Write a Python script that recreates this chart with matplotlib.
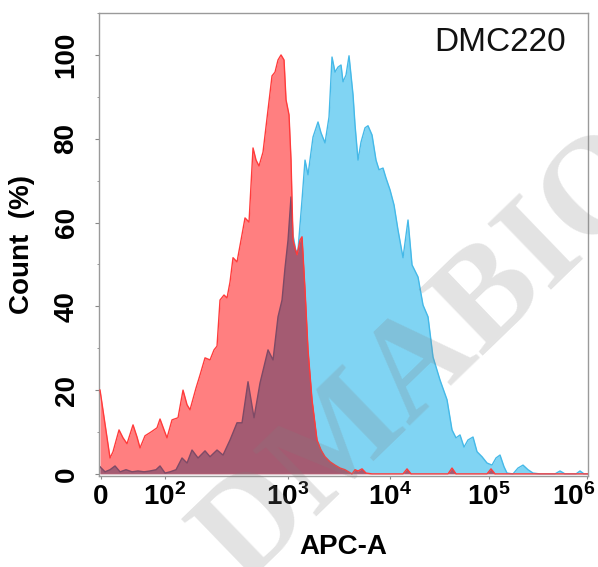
import matplotlib
matplotlib.use("Agg")
import matplotlib.pyplot as plt
import matplotlib.transforms as mtransforms
from matplotlib.ticker import MultipleLocator

plt.rcParams['font.family'] = ['Liberation Sans', 'DejaVu Sans']
plt.rcParams['mathtext.fontset'] = 'custom'
plt.rcParams['mathtext.rm'] = 'Liberation Sans:bold'
plt.rcParams['mathtext.bf'] = 'Liberation Sans:bold'
plt.rcParams['mathtext.default'] = 'rm'

# ---- data (x = display channel of the APC-A axis, y = Count %) ----
red_channel = [1, 11, 14, 20, 24, 28, 34, 38, 41, 46, 52, 58, 61, 65, 68, 73, 79, 84, 88, 91,
               97, 101, 106, 111, 115, 118, 121, 125, 128, 131, 134, 138, 142, 146, 150, 154,
               157, 160, 164, 169, 173, 176, 179, 182, 185, 187, 190, 192, 194, 196, 198, 201,
               203, 206, 209, 213, 218, 222, 226, 231, 236, 241, 246, 253, 256, 259, 263, 267,
               273, 304, 308, 312, 349, 353, 357, 388, 392, 396, 489]
red_count = [20.0, 3.8, 5.3, 10.5, 8.6, 7.2, 11.7, 8.8, 6.2, 9.1, 10.0, 11.0, 13.1, 10.5, 8.6,
             12.9, 13.4, 20.0, 16.5, 15.3, 20.5, 23.6, 27.7, 27.2, 29.6, 30.5, 41.5, 42.7, 42.0,
             45.8, 51.6, 50.6, 55.8, 61.1, 60.1, 77.8, 74.9, 73.5, 76.8, 86.9, 95.0, 95.9, 98.8,
             100.0, 98.8, 89.3, 85.7, 74.9, 55.8, 53.9, 52.3, 55.8, 56.6, 43.9, 29.6, 17.7, 8.1,
             5.7, 4.1, 2.9, 2.1, 1.4, 1.0, 0.0, 1.0, 0.7, 1.2, 0.2, 0.0, 0.0, 1.2, 0.0, 0.0,
             1.4, 0.0, 0.0, 1.2, 0.0, 0.0]

blue_channel = [1, 6, 11, 16, 21, 27, 33, 39, 45, 51, 57, 61, 66, 71, 77, 83, 88, 93, 99, 106,
                111, 118, 124, 131, 138, 143, 149, 155, 161, 169, 174, 179, 183, 186, 189, 192,
                194, 197, 199, 203, 206, 209, 214, 219, 222, 226, 230, 233, 236, 239, 242, 244,
                247, 250, 254, 256, 259, 262, 266, 269, 273, 277, 280, 284, 287, 291, 295, 299,
                304, 309, 313, 319, 324, 329, 334, 341, 348, 353, 357, 361, 365, 369, 374, 378,
                383, 388, 393, 397, 401, 405, 408, 414, 419, 424, 429, 434, 441, 456, 461, 466,
                477, 481, 485, 489]
blue_count = [1.7, 0.5, 1.0, 1.9, 0.5, 1.0, 0.5, 0.7, 0.5, 0.7, 1.0, 1.9, 0.2, 0.5, 1.0, 3.8,
              2.6, 5.7, 3.8, 5.5, 4.1, 5.7, 4.5, 8.1, 12.2, 12.2, 22.0, 13.4, 21.7, 29.6, 27.2,
              37.5, 41.5, 49.2, 55.8, 66.1, 57.0, 53.0, 53.5, 65.4, 74.9, 71.4, 80.4, 84.0, 81.4,
              79.0, 85.2, 99.5, 95.9, 97.1, 97.6, 93.6, 95.2, 99.8, 90.5, 83.3, 74.9, 79.2, 82.6,
              83.1, 80.9, 74.9, 72.6, 73.0, 70.6, 67.8, 64.2, 58.2, 51.6, 60.6, 49.9, 47.0, 40.3,
              37.5, 27.9, 22.4, 17.7, 10.5, 8.6, 9.3, 6.4, 8.1, 8.8, 5.3, 4.1, 2.6, 2.1, 3.8, 4.5,
              1.7, 0.2, 0.0, 1.4, 2.1, 1.0, 0.2, 0.0, 0.0, 0.7, 0.0, 0.0, 0.7, 0.0, 0.0]

x_tick_channels = [2, 66, 189, 291, 390, 488]
x_tick_labels = ['0', r'$10^{2}$', r'$10^{3}$', r'$10^{4}$', r'$10^{5}$', r'$10^{6}$']
y_ticks = [0, 20, 40, 60, 80, 100]
sample_name = 'DMC220'
x_label = 'APC-A'
y_label = 'Count  (%)'
watermark = 'DMABIO'

# ---- figure ----
fig = plt.figure(figsize=(5.98, 5.67), dpi=100)
ax = fig.add_axes([0.1656, 0.1605, 0.8177, 0.8165])

blue_fill = ax.fill_between(blue_channel, blue_count, 0, color='#80d4f3', lw=0, zorder=1)
ax.plot(blue_channel, blue_count, color='#45b9e8', lw=1.0, zorder=2)

red_fill = ax.fill_between(red_channel, red_count, 0, color='#ff7f80', lw=0, zorder=3)

# overlap (red under blue) in mauve
overlap = ax.fill_between(red_channel, red_count, 0, color='#a45b72', lw=0, zorder=4)
overlap.set_clip_path(blue_fill.get_paths()[0], blue_fill.get_transform())
# blue outline where inside red area
inner_line, = ax.plot(blue_channel, blue_count, color='#7e4a66', lw=1.0, zorder=5)
inner_line.set_clip_path(red_fill.get_paths()[0], red_fill.get_transform())

ax.plot(red_channel, red_count, color='#ff3b3b', lw=1.0, zorder=6)

ax.set_xlim(0, 489)
ax.set_ylim(-0.5, 110)

ax.set_xticks(x_tick_channels)
ax.set_xticklabels(x_tick_labels, fontsize=20, fontweight='bold')
ax.set_yticks(y_ticks)
ax.set_yticklabels([str(v) for v in y_ticks], fontsize=20, fontweight='bold',
                   rotation=90, va='center')
ax.yaxis.set_minor_locator(MultipleLocator(10))

ax.tick_params(axis='x', length=2.5, width=0.8, color='#888888', pad=3)
ax.tick_params(axis='y', which='major', length=3, width=0.8, color='#888888', pad=11)
ax.tick_params(axis='y', which='minor', length=1.5, width=0.6, color='#888888')

# keep the last x tick label inside the figure (as in the reference)
last = ax.get_xticklabels()[-1]
last.set_transform(last.get_transform() +
                   mtransforms.ScaledTranslation(-13 / 100, 0, fig.dpi_scale_trans))

for s in ax.spines.values():
    s.set_color('#9a9a9a')
    s.set_linewidth(1.0)

ax.set_xlabel(x_label, fontsize=20, fontweight='bold')
ax.xaxis.set_label_coords(0.5, -0.125)
ax.set_ylabel(y_label, fontsize=20, fontweight='bold')
ax.yaxis.set_label_coords(-0.131, 0.5)

ax.text(0.82, 0.937, sample_name, transform=ax.transAxes, fontsize=24,
        ha='center', va='center', color='#111111', zorder=10)

fig.text(0.72, 0.37, watermark, fontsize=100, fontweight='bold',
         family=['Liberation Serif', 'DejaVu Serif'], color='#808080', alpha=0.22,
         rotation=44, rotation_mode='anchor', ha='center', va='center', zorder=20)

fig.savefig('out.png', dpi=100)
